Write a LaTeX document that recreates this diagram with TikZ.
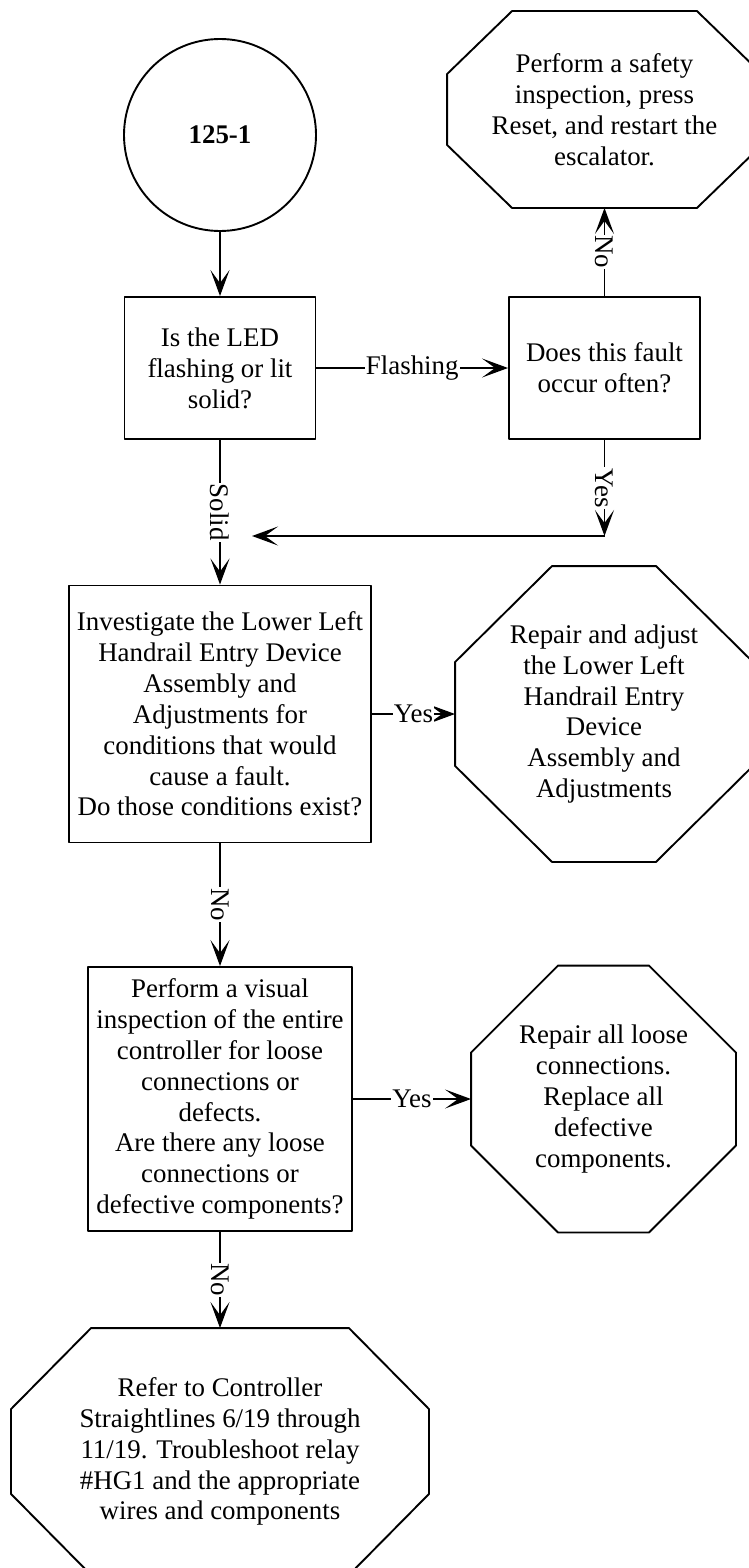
\documentclass[tikz,border=0pt]{standalone}
\usepackage{fontspec}
\setmainfont{Liberation Serif}
\usetikzlibrary{arrows.meta}

\tikzset{
  txt/.style={font=\fontsize{27}{31}\selectfont, align=center},
  box/.style={txt, draw, rectangle, inner sep=0pt},
  octa/.style={txt, rectangle, inner sep=0pt},
  elabel/.style={txt, fill=white, inner sep=1bp},
  flow/.style={->},
}

% octagon outline round a node: node, cut in x, cut in y
\newcommand{\octline}[3]{%
  \draw ([xshift=#2]#1.north west) -- ([xshift=-#2]#1.north east)
    -- ([yshift=-#3]#1.north east) -- ([yshift=#3]#1.south east)
    -- ([xshift=-#2]#1.south east) -- ([xshift=#2]#1.south west)
    -- ([yshift=#3]#1.south west) -- ([yshift=-#3]#1.north west) -- cycle;}

\begin{document}
\begin{tikzpicture}[>={Stealth[length=26bp,width=19bp,inset=13bp]},line join=bevel,line width=1.9bp,x=1bp,y=-1bp]
\useasboundingbox (0,0) rectangle (749,1568);

% Node: start
\node[txt, draw, circle, minimum size=192bp] (start) at (220,135) {\textbf{125-1}};

% Node: led
\node[box, minimum width=191bp, minimum height=142bp] (led) at (220,368)
  {Is the LED\\flashing or lit\\solid?};

% Node: often
\node[box, minimum width=191bp, minimum height=142bp] (often) at (604.5,368)
  {Does this fault\\occur often?};

% Node: safety
\node[octa, minimum width=313bp, minimum height=195bp] (safety) at (604.5,109.5)
  {Perform a safety\\inspection, press\\Reset, and restart the\\escalator.};
\octline{safety}{65bp}{63bp}

% Node: lower
\node[box, minimum width=302bp, minimum height=257bp] (lower) at (220,714)
  {Investigate the Lower Left\\Handrail Entry Device\\Assembly and\\Adjustments for\\conditions that would\\cause a fault.\\Do those conditions exist?};

% Node: adjust
\node[octa, minimum width=296bp, minimum height=294bp] (adjust) at (604,714)
  {Repair and adjust\\the Lower Left\\Handrail Entry\\Device\\Assembly and\\Adjustments};
\octline{adjust}{97bp}{96bp}

% Node: visual
\node[box, minimum width=264bp, minimum height=264bp] (visual) at (220,1099)
  {Perform a visual\\inspection of the entire\\controller for loose\\connections or\\defects.\\Are there any loose\\connections or\\defective components?};

% Node: loose
\node[octa, minimum width=263bp, minimum height=265bp] (loose) at (603.5,1099)
  {Repair all loose\\connections.\\Replace all\\defective\\components.};
\octline{loose}{87bp}{87bp}

% Node: refer
\node[octa, minimum width=416bp, minimum height=245bp] (refer) at (220,1451.5)
  {Refer to Controller\\Straightlines 6/19 through\\11/19. Troubleshoot relay\\\#HG1 and the appropriate\\wires and components};
\octline{refer}{80bp}{81bp}

% bend points of the Yes edge
\coordinate (j1) at (604.5,536);
\coordinate (j2) at (252,536);

% Edge: start -> led
\draw[flow] (start) -- (led);
% Edge: led -> often
\draw[flow] (led) -- node[elabel] {Flashing} (often);
% Edge: often -> safety
\draw[flow] (often) -- node[elabel, rotate=-90] {No} (safety);
% Edge: often -> lower
\draw[flow] (often) -- node[elabel, rotate=-90] {Yes} (j1);
\draw[flow] (j1) -- (j2);
% Edge: led -> lower
\draw[flow] (led) -- node[elabel, rotate=-90] {Solid} (lower);
% Edge: lower -> adjust
\draw[flow] (lower) -- node[elabel] {Yes} (adjust);
% Edge: lower -> visual
\draw[flow] (lower) -- node[elabel, rotate=-90] {No} (visual);
% Edge: visual -> loose
\draw[flow] (visual) -- node[elabel] {Yes} (loose);
% Edge: visual -> refer
\draw[flow] (visual) -- node[elabel, rotate=-90] {No} (refer);
%
\end{tikzpicture}
\end{document}
